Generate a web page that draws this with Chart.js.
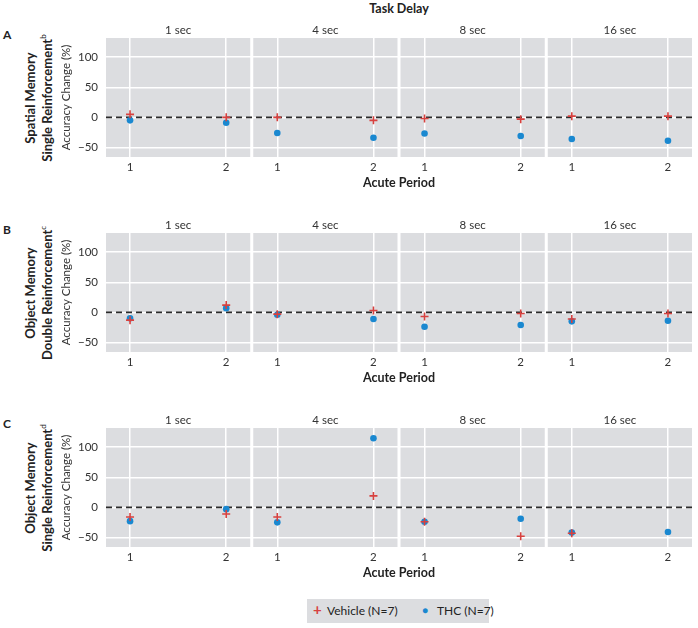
<!DOCTYPE html>
<html>
<head>
<meta charset="utf-8">
<script src="https://cdn.jsdelivr.net/npm/chart.js@4.4.1/dist/chart.umd.min.js"></script>
<style>
  body { margin: 0; width: 698px; height: 628px; position: relative; background: #fff;
         font-family: Lato, "Open Sans", sans-serif; color: #222; overflow: hidden; }
  canvas.row { position: absolute; left: 0; }
  .letter { position: absolute; left: 3px; font-size: 12px; font-weight: bold; }
  .rowtitle { position: absolute; left: 39px; width: 170px; text-align: center; font-size: 13px;
              font-weight: bold; line-height: 13px; white-space: nowrap;
              transform: translate(-50%, -50%) rotate(-90deg); }
  .rowtitle sup { font-size: 8px; font-weight: normal; }
  #taskDelay { position: absolute; top: 1px; left: 399px; transform: translateX(-50%);
               font-size: 12.5px; font-weight: bold; }
  #legend { position: absolute; left: 307px; top: 599px; width: 182px; height: 24px;
            background: #dcdde0; font-size: 12px; }
  #legend span { position: absolute; top: 4px; white-space: nowrap; }
</style>
</head>
<body>
<div id="taskDelay">Task Delay</div>

<div class="letter" style="top:27px">A</div>
<div class="rowtitle" style="top:98px">Spatial Memory<br>Single Reinforcement<sup>b</sup></div>
<canvas class="row" id="chartA" width="698" height="180" style="top:20px"></canvas>

<div class="letter" style="top:222px">B</div>
<div class="rowtitle" style="top:293px">Object Memory<br>Double Reinforcement<sup>c</sup></div>
<canvas class="row" id="chartB" width="698" height="180" style="top:215px"></canvas>

<div class="letter" style="top:416px">C</div>
<div class="rowtitle" style="top:488px">Object Memory<br>Single Reinforcement<sup>d</sup></div>
<canvas class="row" id="chartC" width="698" height="180" style="top:410px"></canvas>

<div id="legend">
  <span style="left:6px; top:1px; color:#d7413f; font-size:15px; font-weight:bold">+</span>
  <span style="left:20px">Vehicle (N=7)</span>
  <span style="left:115px; top:5px; color:#1a88d0; font-size:10px">&#9679;</span>
  <span style="left:130px">THC (N=7)</span>
</div>

<script>
const delays = ["1 sec", "4 sec", "8 sec", "16 sec"];
const periods = [1, 2];
const yTicks = [-50, 0, 50, 100];

// order: 1 sec P1, P2, 4 sec P1, P2, 8 sec P1, P2, 16 sec P1, P2
const vehicleA = [5, 0, 0, -5, -2, -3, 2, 2];
const thcA = [-5, -9, -26, -34, -27, -31, -36, -39];
const vehicleB = [-13, 12, -3, 3, -7, -2, -11, -2];
const thcB = [-10, 7, -4, -11, -24, -21, -15, -14];
const vehicleC = [-16, -11, -16, 19, -24, -48, -43, null];
const thcC = [-23, -3, -25, 115, -24, -19, -42, -41];

const RED = "#d7413f";
const BLUE = "#1a88d0";
const PANEL_BG = "#dcdde0";
const X_LO = 0.75, X_HI = 2.25;
const STEP = (X_HI - X_LO) + 3 / 96; // panel width + small white gap
const X_MAX = (delays.length - 1) * STEP + X_HI;

function xFor(i) {
  return Math.floor(i / 2) * STEP + periods[i % 2];
}

function toPoints(vals) {
  return vals.map((y, i) => ({ x: xFor(i), y: y }));
}

const tickPositions = [];
delays.forEach((d, k) => periods.forEach(p => tickPositions.push(k * STEP + p)));

/* background, panel gaps, strip labels */
const facetPlugin = {
  id: "facets",
  beforeDraw(chart) {
    const { ctx, chartArea: a } = chart;
    ctx.save();
    ctx.fillStyle = PANEL_BG;
    ctx.fillRect(a.left, a.top, a.right - a.left, a.bottom - a.top);
    ctx.restore();
  },
  beforeDatasetsDraw(chart) {
    const { ctx, chartArea: a, scales: { x } } = chart;
    ctx.save();
    ctx.fillStyle = "#fff";
    for (let k = 1; k < delays.length; k++) {
      const x0 = x.getPixelForValue((k - 1) * STEP + X_HI);
      const x1 = x.getPixelForValue(k * STEP + X_LO);
      ctx.fillRect(x0, a.top, x1 - x0, a.bottom - a.top);
    }
    ctx.font = "11.5px Lato";
    ctx.fillStyle = "#333";
    ctx.textAlign = "center";
    ctx.textBaseline = "middle";
    delays.forEach((d, k) => {
      const cx = x.getPixelForValue(k * STEP + (X_LO + X_HI) / 2);
      ctx.fillText(d, cx, a.top - 8);
    });
    ctx.restore();
  }
};

function makeRow(id, vehicle, thc) {
  return new Chart(document.getElementById(id), {
    type: "scatter",
    data: {
      datasets: [
        {
          label: "Vehicle (N=7)",
          data: toPoints(vehicle),
          pointStyle: "cross",
          pointRadius: 4,
          pointBorderWidth: 1.6,
          borderColor: RED,
          backgroundColor: RED
        },
        {
          label: "THC (N=7)",
          data: toPoints(thc),
          pointStyle: "circle",
          pointRadius: 3.3,
          pointBorderWidth: 0,
          borderColor: BLUE,
          backgroundColor: BLUE
        },
        {
          label: "zero",
          data: [{ x: X_LO, y: 0 }, { x: X_MAX, y: 0 }],
          showLine: true,
          pointRadius: 0,
          borderColor: "#2b2b2b",
          borderWidth: 1.8,
          borderDash: [6, 4]
        }
      ]
    },
    options: {
      responsive: false,
      animation: false,
      events: [],
      layout: { padding: { top: 18, right: 6, left: 0, bottom: 0 } },
      plugins: { legend: { display: false }, tooltip: { enabled: false } },
      scales: {
        x: {
          type: "linear",
          min: X_LO,
          max: X_MAX,
          afterBuildTicks: s => { s.ticks = tickPositions.map(v => ({ value: v })); },
          afterFit: s => { s.height = 43; },
          grid: { color: "#fff", lineWidth: 1.5, drawTicks: false },
          border: { display: false },
          ticks: {
            autoSkip: false,
            maxRotation: 0,
            padding: 3,
            color: "#333",
            font: { family: "Lato", size: 11.5 },
            callback: (v, i) => String(periods[i % 2])
          },
          title: {
            display: true,
            text: "Acute Period",
            color: "#222",
            font: { family: "Lato", size: 12.5, weight: "bold" },
            padding: { top: 0, bottom: 9.5 }
          }
        },
        y: {
          min: -66,
          max: 132,
          afterBuildTicks: s => { s.ticks = yTicks.map(v => ({ value: v })); },
          afterFit: s => { s.width = 106; },
          grid: { color: "#fff", lineWidth: 1.5, drawTicks: false },
          border: { display: false },
          ticks: {
            padding: 8,
            color: "#333",
            font: { family: "Lato", size: 11.5 },
            callback: v => (v < 0 ? "\u2212" + Math.abs(v) : String(v))
          },
          title: {
            display: true,
            text: "Accuracy Change (%)",
            color: "#333",
            font: { family: "Lato", size: 11.5 },
            padding: { top: 59, bottom: 0 }
          }
        }
      }
    },
    plugins: [facetPlugin]
  });
}

makeRow("chartA", vehicleA, thcA);
makeRow("chartB", vehicleB, thcB);
makeRow("chartC", vehicleC, thcC);
</script>
</body>
</html>
